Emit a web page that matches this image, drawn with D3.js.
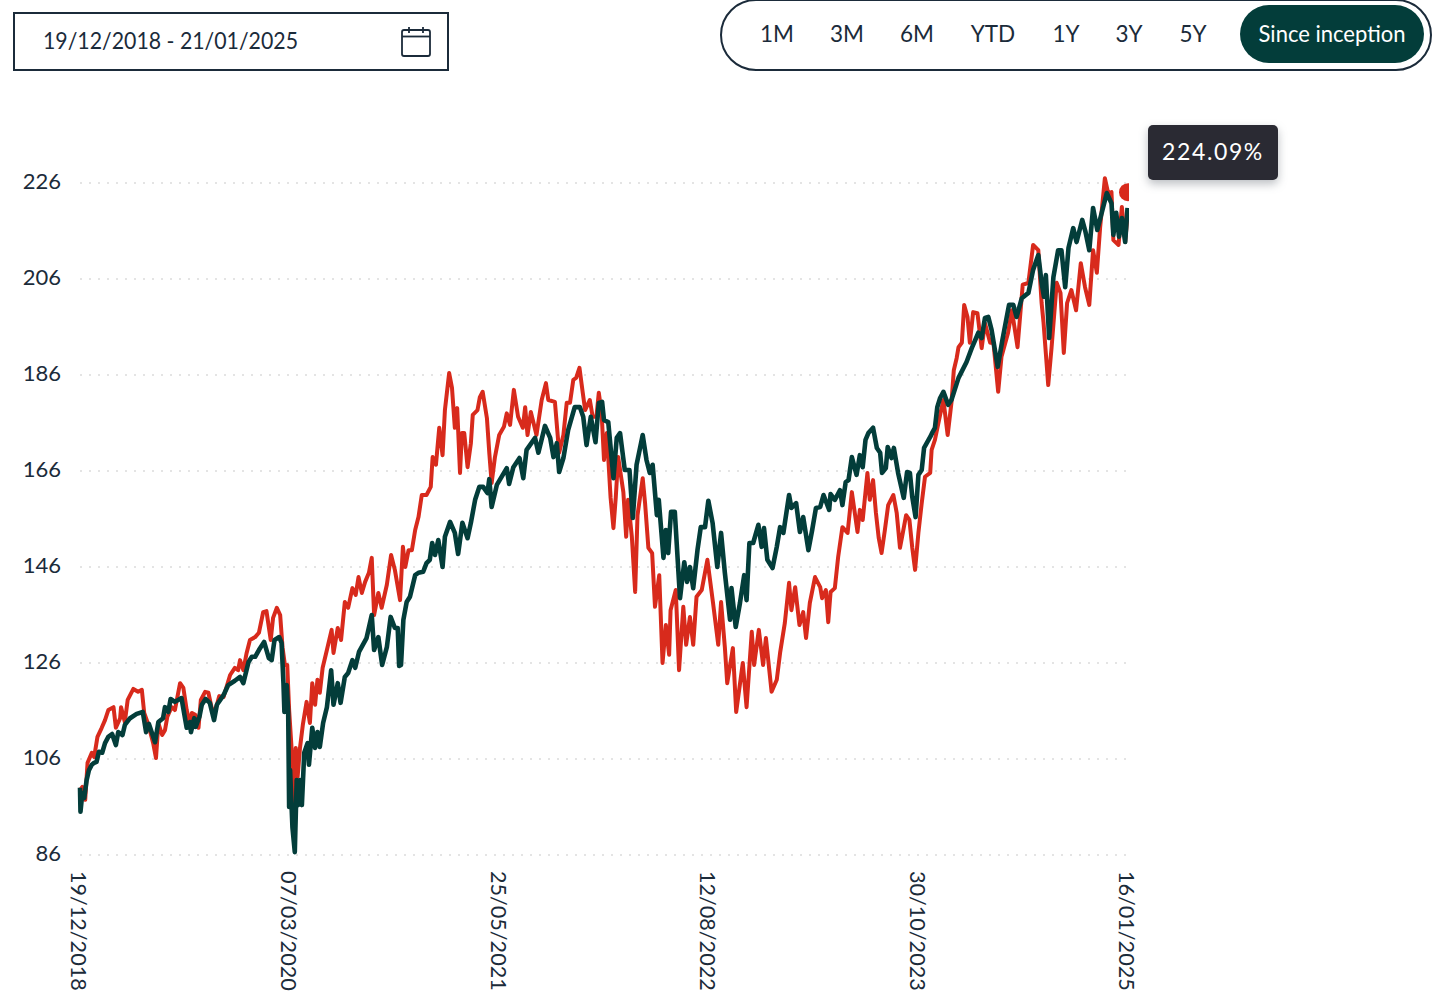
<!DOCTYPE html>
<html lang="en">
<head>
<meta charset="utf-8">
<title>Performance since inception</title>
<script src="https://cdn.jsdelivr.net/npm/d3@7"></script>
<style>
  body { margin: 0; background: #fff; }
  svg { display: block; font-family: Lato, sans-serif; }
  .axis text { fill: #1b2b3a; font-family: Lato, sans-serif; font-size: 22px; }
  .axis .domain, .axis .tick line { display: none; }
  .grid line { stroke: #e4e4e4; stroke-width: 2; stroke-dasharray: 2 7; }
</style>
</head>
<body>
<div id="chart"></div>
<script>
// chart values
var startDate = "19/12/2018";
var endDate = "16/01/2025";
var dateRangeLabel = "19/12/2018 - 21/01/2025";
var rangeButtons = ["1M", "3M", "6M", "YTD", "1Y", "3Y", "5Y"];
var rangeCentres = [777, 847, 917, 993, 1066, 1129, 1193];
var activeRange = "Since inception";
var tipLabel = "224.09%";
var tipValue = 224.09;
var yTicks = [86, 106, 126, 146, 166, 186, 206, 226];
var xTicks = ["19/12/2018", "07/03/2020", "25/05/2021", "12/08/2022", "30/10/2023", "16/01/2025"];

// days since start date, then index level
var redDays = [0,5,11,16,25,30,37,46,53,60,71,76,85,87,95,101,113,123,131,136,145,155,161,166,174,180,185,194,201,212,219,226,233,237,244,251,256,265,272,282,290,295,304,318,328,335,339,346,353,360,371,379,388,395,404,409,417,424,429,434,439,443,448,453,457,461,466,472,480,487,492,498,503,508,514,523,533,537,546,553,561,568,577,584,590,597,604,612,618,623,632,639,650,659,667,678,684,689,696,703,710,717,724,734,743,747,754,761,768,773,782,788,794,799,805,809,814,821,828,832,842,847,853,862,867,872,879,888,898,904,911,919,928,938,943,948,955,967,978,987,992,1006,1015,1024,1031,1038,1045,1051,1058,1065,1070,1080,1086,1094,1099,1105,1110,1116,1124,1130,1135,1140,1151,1157,1161,1169,1176,1181,1192,1197,1204,1212,1218,1227,1234,1241,1248,1251,1262,1269,1278,1284,1292,1299,1306,1317,1329,1341,1352,1358,1366,1371,1383,1390,1404,1412,1423,1428,1438,1447,1453,1465,1476,1483,1493,1502,1507,1515,1524,1532,1538,1546,1557,1568,1572,1580,1585,1590,1599,1606,1615,1626,1635,1647,1652,1658,1668,1673,1680,1686,1692,1698,1705,1712,1723,1730,1737,1743,1750,1757,1763,1769,1776,1783,1790,1801,1804,1811,1822,1829,1838,1846,1851,1857,1861,1868,1873,1880,1885,1892,1901,1910,1917,1928,1935,1945,1952,1966,1974,1986,1997,2009,2019,2030,2037,2041,2051,2058,2069,2077,2084,2091,2100,2110,2120,2129,2138,2146,2154,2161,2171,2178,2185,2189,2200,2207,2214,2220];
var redValues = [99.5,100.2,97.5,105.2,107.3,106.4,110.6,112.5,114.1,116.2,116.8,112.5,114.5,116.8,113.7,118.3,120.6,120,120.4,115.6,113.1,109.3,106.2,113.5,111,112,114.8,116.8,116.2,121.8,120.8,116.2,113.1,115.6,115.2,112.5,118.3,120,119.8,115.2,117.3,119.1,118.9,123.5,125,124.5,126.6,124.5,128.1,130.8,131.4,132.3,136.6,136.8,130.8,135.4,137.5,136,129.3,125.6,125.6,116.2,108.5,96.8,108.3,102.3,108.3,113.1,117.9,113.5,121.8,117.3,122.5,119.8,125,128.7,132.9,128.1,133.3,130.8,138.7,137.5,141.6,140.2,143.9,140.6,142.9,144.8,147.9,136,140.6,137.5,142.3,148.5,145.4,139.1,150.2,146,149.5,149.5,153.7,156.4,161,161,162.7,168.9,167.3,175,169.3,178.7,186.4,183.3,175,179.1,165.6,173.9,173.9,166.8,171.8,177.7,178.7,181.4,182.5,177,169.8,163.5,168.9,173.5,175.2,178,175.6,182.9,177.3,175,179.3,173.5,178.3,173.5,180.8,184.3,180.8,180.4,169.8,173.5,180.2,180.2,185,185.4,187.5,182.3,178.7,180.8,177.3,177.3,182.3,178,168.3,173.9,160.4,154.1,160.6,168.9,161.6,152.3,160,152.3,140.8,156.8,164.5,159.3,150,148.9,137.7,144.3,126,133.9,127.7,137,141.2,124.5,137.7,129.8,135.6,129.8,139.8,141.2,147.5,138.5,129.8,138.7,129.3,121.8,129.1,115.8,126,116.8,132.5,125.6,132.9,125.6,131.2,120,122.5,128.1,134.3,142.7,137,141.8,133.9,136.6,131.2,138.5,143.9,141.8,139.5,141.2,134.5,140.8,141.6,148.1,154.3,153.1,161.6,153.3,157.9,155.8,165.6,160,164.1,157.3,152,148.9,153.7,158.9,161,157.3,150,153.1,156.8,155.8,150,145.4,153.1,159.3,164.8,165.6,170.4,172.5,177.7,180.8,173.5,180.2,187,189.5,191.8,192.7,200.6,198.1,192.7,199.1,198.9,191.6,196.8,192.7,192.7,182.5,189.8,194.8,199.5,191.8,204.8,205.2,213.1,212,201,197,183.9,191.6,205.2,203.1,190.6,201,203.7,199.5,209.3,204.3,200.6,212,207.3,216.8,227,223.9,224.1,214.1,213.1,221,213.7,220.4];

var greenDays = [0,1,5,9,14,19,25,30,35,40,47,53,60,68,76,81,90,95,106,120,133,140,146,159,166,176,180,187,192,201,215,226,233,235,242,245,253,258,266,275,284,290,304,314,328,339,346,357,364,371,379,390,400,406,412,422,427,431,433,438,441,443,445,450,455,459,462,466,470,475,482,485,492,498,503,508,515,523,532,537,546,552,561,568,577,583,591,607,618,623,632,640,650,658,667,673,676,680,685,692,699,710,717,727,734,741,746,752,759,768,773,784,794,801,810,821,828,837,846,854,863,867,872,883,904,909,918,931,939,946,964,971,985,996,1003,1010,1015,1024,1034,1048,1059,1066,1073,1082,1092,1099,1106,1110,1119,1130,1137,1144,1154,1164,1171,1179,1192,1200,1207,1213,1222,1226,1236,1241,1246,1252,1260,1271,1280,1286,1292,1299,1308,1315,1324,1331,1340,1350,1358,1366,1377,1380,1389,1398,1407,1412,1418,1426,1437,1444,1449,1456,1467,1476,1483,1490,1502,1507,1517,1525,1532,1543,1551,1559,1568,1575,1587,1590,1599,1610,1615,1622,1628,1635,1645,1652,1658,1664,1670,1680,1688,1695,1699,1707,1711,1719,1724,1733,1745,1752,1758,1763,1770,1776,1783,1788,1801,1806,1811,1816,1822,1829,1839,1846,1861,1878,1889,1903,1910,1917,1924,1931,1944,1954,1968,1977,1984,1995,2009,2019,2030,2037,2042,2046,2053,2062,2072,2079,2087,2094,2104,2111,2123,2130,2138,2146,2155,2175,2185,2189,2195,2201,2207,2214,2219];
var greenValues = [100,95,98.9,97.9,101.6,103.7,104.8,105.2,105.4,107.5,107.3,109.3,110.6,111.2,108.9,111.6,111,113.1,114.5,115.4,115.8,111.6,113.3,109.5,113.7,114.5,116.8,115.8,118.5,117.9,118.7,112.5,113.7,111.6,114.5,112.7,114.8,117.3,118.5,117.7,114.1,117.3,119.3,121.4,122.3,123.1,121.8,126.2,127.3,127.3,128.7,130.4,127,126.6,130.8,131.4,130.2,121.8,115.8,121.4,115.8,96,103.7,91.8,86.6,101.6,96.4,101.6,96.4,107.3,109.3,104.8,112.5,108.3,111.6,108.5,113.5,116.8,124.5,117.3,121.8,117.7,123.1,123.9,126.6,125,128.3,131.2,136,128.7,131.4,125.6,129.3,135.6,133.3,133.3,125.4,125.6,135,138.7,139.8,144.3,144.8,145,146.8,147.5,151,148.5,151.6,146,152.3,155.4,153.1,148.7,155.2,152,155.2,160,162.7,162.7,161.4,164.3,158.5,163.1,166.6,163.3,166.8,168.7,164.5,170.4,172.9,169.8,175.4,172.9,168.9,171.8,165.8,168.7,174.5,179.3,179.3,177.3,171.4,177.3,172,180.2,180.4,176.6,176.2,164.5,172.9,173.9,166.2,166.2,156.2,167.3,173.5,168.3,165.6,167.3,156.8,160,147.9,153.7,148.9,157.5,157.5,139.5,147,142.9,146,141.6,149.5,154.3,154.3,159.8,155.2,146,153.1,144.8,135,141.6,133.5,138.5,144.3,139.1,151,151,154.8,150.2,154.1,147.5,145.8,150.2,154.3,153.1,161,158.3,159.3,153.3,156.4,149.5,153.7,158.3,158.5,161,157.9,161.2,160,162,158.9,163.7,164.1,168.9,165.2,169.3,166.8,172.5,173.9,175,170.8,169.8,165.6,166.6,171,168.7,170.8,165.6,160.4,165.8,165.6,160.6,156.4,165.2,166.2,170.8,173.1,174.1,175,179.3,181.2,182.5,179.8,180.8,185.4,188.7,191.6,194.8,193.7,197.9,198.1,195.4,187.7,193.3,200.6,200.6,198.1,202,203.1,207.9,211,205.2,202.3,206.8,193.7,206.4,212,212,204.3,212.5,216.6,213.7,218.3,215.8,212,220.8,216.2,223.9,221.8,215.2,219.8,214.8,218.7,213.7,220.8];

var width = 1440, height = 1001;
var ink = "#1b2b3a", dark = "#033d3a", red = "#d82a1c";

var parseDate = d3.timeParse("%d/%m/%Y");
var formatDate = d3.timeFormat("%d/%m/%Y");
var start = parseDate(startDate);

var x = d3.scaleTime().domain([start, parseDate(endDate)]).range([80, 1128]);
var y = d3.scaleLinear().domain([86, 226]).range([855, 183]);

var svg = d3.select("#chart").append("svg")
  .attr("width", width)
  .attr("height", height);

// date picker box
svg.append("rect")
  .attr("x", 14).attr("y", 13).attr("width", 434).attr("height", 57)
  .attr("fill", "none").attr("stroke", ink).attr("stroke-width", 2);
svg.append("text")
  .attr("x", 43).attr("y", 49)
  .attr("fill", ink).attr("font-size", 24)
  .attr("textLength", 255).attr("lengthAdjust", "spacingAndGlyphs")
  .text(dateRangeLabel);

// calendar icon
var cal = svg.append("g").attr("fill", "none").attr("stroke", ink).attr("stroke-width", 1.8);
cal.append("rect").attr("x", 402).attr("y", 30).attr("width", 28).attr("height", 26).attr("rx", 2);
cal.append("line").attr("x1", 402).attr("x2", 430).attr("y1", 36.5).attr("y2", 36.5);
cal.append("line").attr("x1", 409).attr("x2", 409).attr("y1", 27).attr("y2", 33);
cal.append("line").attr("x1", 423).attr("x2", 423).attr("y1", 27).attr("y2", 33);

// range selector pill
svg.append("rect")
  .attr("x", 721).attr("y", 0).attr("width", 710).attr("height", 70).attr("rx", 35)
  .attr("fill", "none").attr("stroke", ink).attr("stroke-width", 2);
svg.selectAll(".range-label")
  .data(rangeButtons)
  .enter().append("text")
  .attr("class", "range-label")
  .attr("x", function(d, i) { return rangeCentres[i]; })
  .attr("y", 42)
  .attr("text-anchor", "middle")
  .attr("fill", ink).attr("font-size", 22.5)
  .text(function(d) { return d; });
svg.append("rect")
  .attr("x", 1240).attr("y", 5).attr("width", 184).attr("height", 58).attr("rx", 29)
  .attr("fill", dark);
svg.append("text")
  .attr("x", 1332).attr("y", 42)
  .attr("text-anchor", "middle")
  .attr("fill", "#fff").attr("font-size", 23)
  .attr("textLength", 147).attr("lengthAdjust", "spacingAndGlyphs")
  .text(activeRange);

// gridlines
svg.append("g").attr("class", "grid")
  .selectAll("line")
  .data(yTicks)
  .enter().append("line")
  .attr("x1", 80).attr("x2", 1128)
  .attr("y1", function(d) { return y(d); })
  .attr("y2", function(d) { return y(d); });

// axes
var yAxis = svg.append("g").attr("class", "axis")
  .attr("transform", "translate(67,0)")
  .call(d3.axisLeft(y).tickValues(yTicks).tickSize(0).tickPadding(6));
yAxis.selectAll("text").attr("dy", "0.24em");

var xAxis = svg.append("g").attr("class", "axis")
  .attr("transform", "translate(0,871)")
  .call(d3.axisBottom(x).tickValues(xTicks.map(parseDate)).tickFormat(formatDate).tickSize(0));
xAxis.selectAll("text")
  .style("font-size", "21.6px")
  .attr("transform", "rotate(90)")
  .attr("text-anchor", "start")
  .attr("x", 0).attr("y", 0).attr("dy", "0.42em");

// the lines stop at the plot edge
svg.append("clipPath").attr("id", "plot-clip")
  .append("rect").attr("x", 70).attr("y", 100).attr("width", 1059).attr("height", 770);

var plot = svg.append("g").attr("clip-path", "url(#plot-clip)");

function dateOf(days) { return d3.timeDay.offset(start, days); }

var line = d3.line()
  .x(function(d) { return x(dateOf(d[0])); })
  .y(function(d) { return y(d[1]); });

plot.append("path")
  .datum(d3.zip(redDays, redValues))
  .attr("fill", "none").attr("stroke", red).attr("stroke-width", 4)
  .attr("stroke-linejoin", "round")
  .attr("d", line);
plot.append("path")
  .datum(d3.zip(greenDays, greenValues))
  .attr("fill", "none").attr("stroke", dark).attr("stroke-width", 4.6)
  .attr("stroke-linejoin", "round")
  .attr("d", line);

// hovered point
plot.append("circle")
  .attr("cx", x(parseDate(endDate)))
  .attr("cy", y(tipValue))
  .attr("r", 9)
  .attr("fill", red);

// tooltip
svg.append("rect")
  .attr("x", 1148).attr("y", 125).attr("width", 130).attr("height", 55).attr("rx", 5)
  .attr("fill", "#2a2a33")
  .style("filter", "drop-shadow(0 4px 5px rgba(60,70,80,0.35))");
svg.append("text")
  .attr("x", 1213).attr("y", 160)
  .attr("text-anchor", "middle")
  .attr("fill", "#fff").attr("font-size", 23)
  .attr("letter-spacing", 1.6)
  .text(tipLabel);
</script>
</body>
</html>
